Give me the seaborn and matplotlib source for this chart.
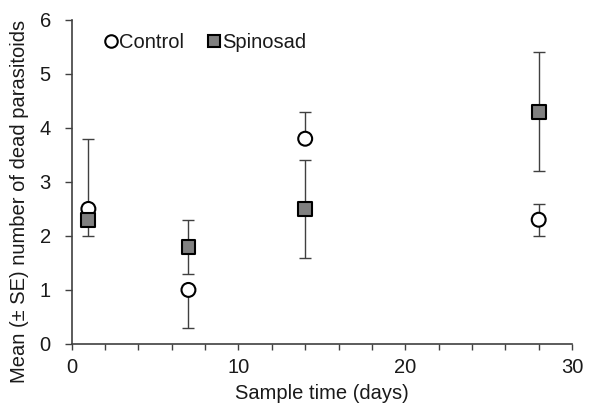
import numpy as np
import pandas as pd
import matplotlib
matplotlib.use("Agg")
import matplotlib.pyplot as plt
from matplotlib.lines import Line2D
from matplotlib.ticker import MultipleLocator
import seaborn as sns

# data
days = [1, 7, 14, 28]
control_mean = [2.5, 1.0, 3.8, 2.3]
control_err_lo = [0.0, 0.7, 0.0, 0.3]
control_err_hi = [1.3, 0.0, 0.5, 0.3]
spinosad_mean = [2.3, 1.8, 2.5, 4.3]
spinosad_err_lo = [0.3, 0.5, 0.9, 1.1]
spinosad_err_hi = [0.0, 0.5, 0.9, 1.1]

df = pd.DataFrame({
    "day": days + days,
    "mean": control_mean + spinosad_mean,
    "treatment": ["Control"] * len(days) + ["Spinosad"] * len(days),
})

sns.set_style("white")
plt.rcParams["font.family"] = ["Liberation Sans", "DejaVu Sans"]
txt = "#1a1a1a"
axc = "#404040"

fig = plt.figure(figsize=(5.99, 4.07), dpi=100)
ax = fig.add_axes([0.1197, 0.155, 0.8353, 0.796])

# error bars first, under the markers
ax.errorbar(days, control_mean, yerr=[control_err_lo, control_err_hi], fmt="none",
            ecolor=axc, elinewidth=1.0, capsize=4, capthick=1.0, zorder=1)
ax.errorbar(days, spinosad_mean, yerr=[spinosad_err_lo, spinosad_err_hi], fmt="none",
            ecolor=axc, elinewidth=1.0, capsize=4, capthick=1.0, zorder=1)

sns.scatterplot(data=df, x="day", y="mean", hue="treatment", style="treatment",
                markers={"Control": "o", "Spinosad": "s"},
                palette={"Control": "white", "Spinosad": "#808080"},
                s=100, edgecolor="black", linewidth=1.5, legend=False,
                zorder=3, ax=ax)

ax.set_xlim(0, 30)
ax.set_ylim(0, 6)
ax.xaxis.set_major_locator(MultipleLocator(10))
ax.xaxis.set_minor_locator(MultipleLocator(2))
ax.yaxis.set_major_locator(MultipleLocator(1))
ax.tick_params(axis="x", which="both", direction="out", length=4, width=1,
               color=axc, bottom=True, labelsize=14.5, labelcolor=txt, pad=6)
ax.tick_params(axis="y", which="major", direction="out", length=5, width=1,
               color=axc, left=True, labelsize=14.5, labelcolor=txt, pad=10)

sns.despine(ax=ax)
for s in ("left", "bottom"):
    ax.spines[s].set_color(axc)
    ax.spines[s].set_linewidth(1.2)

ax.set_xlabel("Sample time (days)", fontsize=14.5, color=txt, labelpad=5)
ax.set_ylabel("Mean (\u00b1 SE) number of dead parasitoids", fontsize=14.5,
              color=txt, labelpad=6)
ax.yaxis.set_label_coords(-0.085, 0.44)

handles = [
    Line2D([], [], marker="o", ls="none", markersize=9, markerfacecolor="white",
           markeredgecolor="black", markeredgewidth=1.5, label="Control"),
    Line2D([], [], marker="s", ls="none", markersize=9, markerfacecolor="#808080",
           markeredgecolor="black", markeredgewidth=1.5, label="Spinosad"),
]
ax.legend(handles=handles, loc="upper left", bbox_to_anchor=(0.03, 1.015), ncol=2,
          frameon=False, fontsize=14.5, handlelength=0.6, handletextpad=0.1,
          columnspacing=1.2, labelcolor=txt)

fig.savefig("out.png", dpi=100)
